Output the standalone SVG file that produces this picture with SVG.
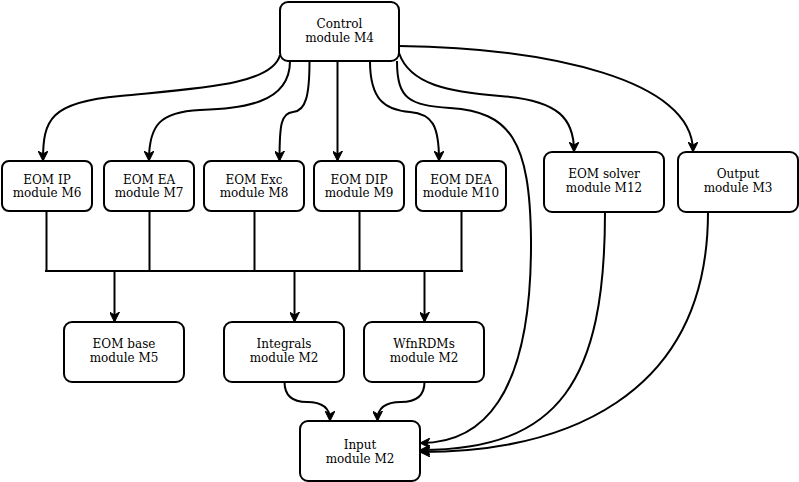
<svg xmlns="http://www.w3.org/2000/svg" width="799" height="482" viewBox="0 0 799 482">
<style>
.box{fill:#fff;stroke:#000;stroke-width:2}
.lbl{font-family:"DejaVu Serif",serif;font-size:12px;fill:#000;text-anchor:middle}
.e{fill:none;stroke:#000;stroke-width:2}
.a{marker-end:url(#arr)}
</style>
<defs>
<marker id="arr" viewBox="0 0 10 10" refX="9" refY="5" markerWidth="10" markerHeight="10" markerUnits="userSpaceOnUse" orient="auto">
<path d="M0 0 L10 5 L0 10 L3 5 Z" fill="#000" stroke="#000" stroke-width="1"/>
</marker>
</defs>
<rect width="799" height="482" fill="#fff"/>
<g id="connectors">
<path class="e a" d="M280 55 C272 85 200 88 120 96 C50 102 43 120 43 160"/>
<path class="e a" d="M290 61 C290 105 240 108 200 110 C160 112 149 125 149 160"/>
<path class="e a" d="M309.5 61 C309.5 95 306 111 293 112 C281 113 279.5 125 279.5 160"/>
<path class="e a" d="M337.5 61 L337.5 160"/>
<path class="e a" d="M370 61 C370 100 385 110 410 112 C432 114 439 125 439 160"/>
<path class="e a" d="M397 61 C397 100 410 105 450 108 C510 112 530 140 531 240 C532 400 480 443 421 443"/>
<path class="e a" d="M399 53 C410 85 450 92 500 96 C560 100 574 120 574 151"/>
<path class="e a" d="M399 46 C550 48 693 80 693 151"/>
<path class="e" d="M46.5 212 V271 M149.5 212 V271 M254.5 212 V271 M359.5 212 V271 M461.5 212 V271 M45 271 H463"/>
<path class="e a" d="M114.5 271 V321"/>
<path class="e a" d="M294.5 271 V321"/>
<path class="e a" d="M424.5 271 V321"/>
<path class="e a" d="M284.5 382 Q284.5 402 307 402 Q330 402 330 420"/>
<path class="e a" d="M424.5 382 Q424.5 402 401 402 Q377.5 402 377.5 420"/>
<path class="e a" d="M605 212 C605 380 560 450 421 450"/>
<path class="e a" d="M708 212 C708 400 560 452 421 452"/>
</g>
<g id="control"><rect class="box" x="280" y="2" width="119" height="59" rx="8"/><text class="lbl" x="339.5" y="28">Control</text><text class="lbl" x="339.5" y="42">module M4</text></g>
<g id="eom-ip"><rect class="box" x="2" y="161" width="90" height="50" rx="7"/><text class="lbl" x="47" y="184">EOM IP</text><text class="lbl" x="47" y="197">module M6</text></g>
<g id="eom-ea"><rect class="box" x="104" y="161" width="90" height="50" rx="7"/><text class="lbl" x="149" y="184">EOM EA</text><text class="lbl" x="149" y="197">module M7</text></g>
<g id="eom-exc"><rect class="box" x="204" y="161" width="100" height="50" rx="7"/><text class="lbl" x="254" y="184">EOM Exc</text><text class="lbl" x="254" y="197">module M8</text></g>
<g id="eom-dip"><rect class="box" x="314" y="161" width="90" height="50" rx="7"/><text class="lbl" x="359" y="184">EOM DIP</text><text class="lbl" x="359" y="197">module M9</text></g>
<g id="eom-dea"><rect class="box" x="416" y="161" width="90" height="50" rx="7"/><text class="lbl" x="461" y="184">EOM DEA</text><text class="lbl" x="461" y="197">module M10</text></g>
<g id="eom-solver"><rect class="box" x="544" y="152" width="120" height="60" rx="8"/><text class="lbl" x="604" y="178">EOM solver</text><text class="lbl" x="604" y="192">module M12</text></g>
<g id="output"><rect class="box" x="678" y="152" width="120" height="60" rx="8"/><text class="lbl" x="738" y="178">Output</text><text class="lbl" x="738" y="192">module M3</text></g>
<g id="eom-base"><rect class="box" x="64" y="322" width="120" height="60" rx="8"/><text class="lbl" x="124" y="348">EOM base</text><text class="lbl" x="124" y="362">module M5</text></g>
<g id="integrals"><rect class="box" x="224" y="322" width="120" height="60" rx="8"/><text class="lbl" x="284" y="348">Integrals</text><text class="lbl" x="284" y="362">module M2</text></g>
<g id="wfnrdms"><rect class="box" x="364" y="322" width="120" height="60" rx="8"/><text class="lbl" x="424" y="348">WfnRDMs</text><text class="lbl" x="424" y="362">module M2</text></g>
<g id="input"><rect class="box" x="300" y="421" width="120" height="60" rx="8"/><text class="lbl" x="360" y="449">Input</text><text class="lbl" x="360" y="463">module M2</text></g>
</svg>
